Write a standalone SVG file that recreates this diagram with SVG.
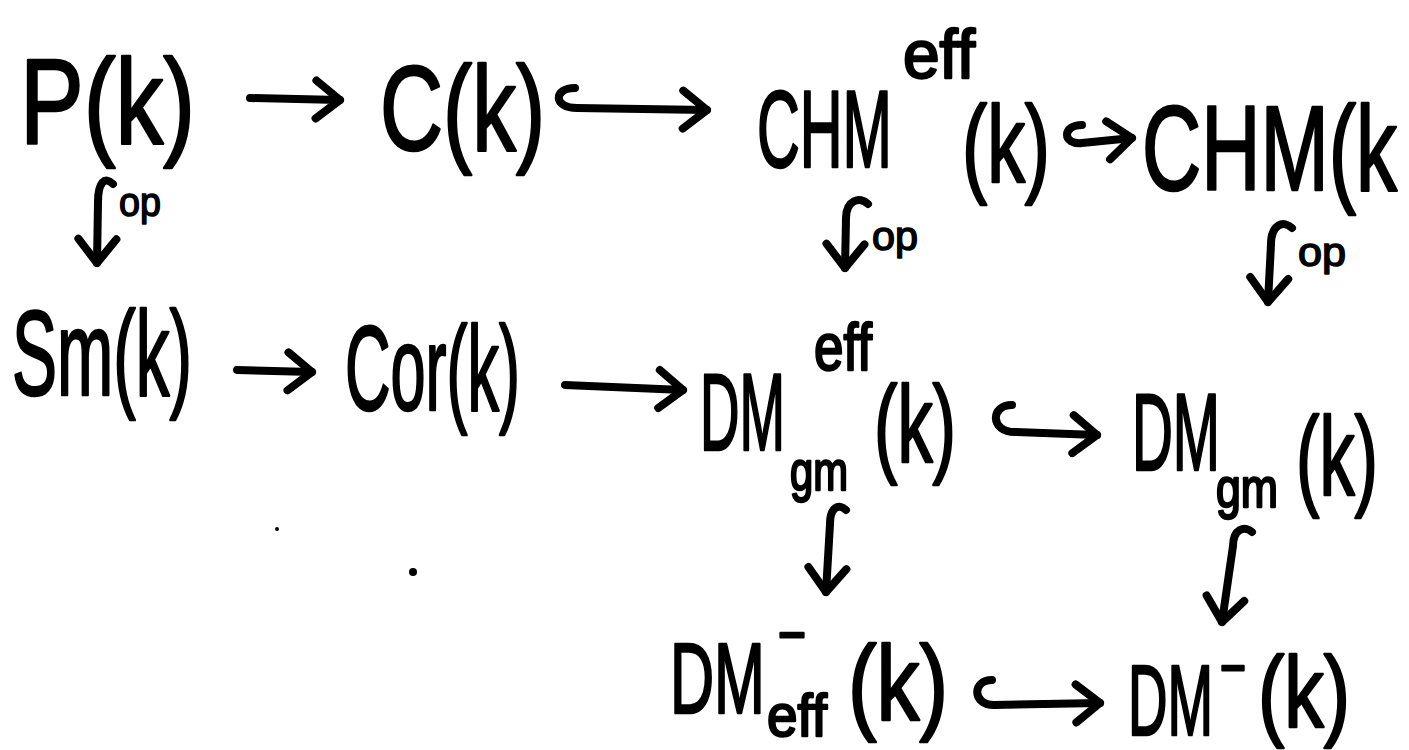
<svg xmlns="http://www.w3.org/2000/svg" width="1409" height="750" viewBox="0 0 1409 750">
<defs>
<style>
.t{font-family:"Liberation Sans",Arial,sans-serif;fill:#000;stroke:#000;stroke-width:2.5;stroke-linejoin:round;font-size:120px;}
.o{font-size:40px;stroke-width:1.5;}
.c{fill:none;stroke:#000;stroke-width:8;stroke-linecap:round;stroke-linejoin:round;}
</style>
<marker id="ah" markerUnits="userSpaceOnUse" markerWidth="60" markerHeight="60" viewBox="-30 -30 40 60" refX="0" refY="0" orient="auto" overflow="visible">
<path d="M-24,-19 L0,0 L-24,19" fill="none" stroke="#000" stroke-width="8" stroke-linecap="round" stroke-linejoin="round"/>
</marker>
</defs>
<rect width="1409" height="750" fill="#fff"/>
<g id="n-P"><text class="t" x="20" y="143" textLength="175" lengthAdjust="spacingAndGlyphs">P(k)</text></g>
<g id="n-C"><text class="t" x="380" y="150" textLength="165" lengthAdjust="spacingAndGlyphs">C(k)</text></g>
<g id="n-CHMeff"><text class="t"><tspan x="757" y="167" font-size="110" textLength="135" lengthAdjust="spacingAndGlyphs">CHM</tspan><tspan x="903" y="78" font-size="68" textLength="72" lengthAdjust="spacingAndGlyphs">eff</tspan><tspan x="962" y="182" font-size="110" textLength="88" lengthAdjust="spacingAndGlyphs">(k)</tspan></text></g>
<g id="n-CHM"><text class="t" x="1142" y="190" font-size="115" textLength="255" lengthAdjust="spacingAndGlyphs">CHM(k</text></g>
<g id="n-Sm"><text class="t" x="12" y="395" textLength="180" lengthAdjust="spacingAndGlyphs">Sm(k)</text></g>
<g id="n-Cor"><text class="t" x="345" y="410" textLength="175" lengthAdjust="spacingAndGlyphs">Cor(k)</text></g>
<g id="n-DMeffgm"><text class="t"><tspan x="700" y="450" font-size="110" textLength="85" lengthAdjust="spacingAndGlyphs">DM</tspan><tspan x="814" y="370" font-size="66" textLength="58" lengthAdjust="spacingAndGlyphs">eff</tspan><tspan x="790" y="490" font-size="56" textLength="58" lengthAdjust="spacingAndGlyphs">gm</tspan><tspan x="874" y="462" font-size="110" textLength="82" lengthAdjust="spacingAndGlyphs">(k)</tspan></text></g>
<g id="n-DMgm"><text class="t"><tspan x="1132" y="470" font-size="110" textLength="88" lengthAdjust="spacingAndGlyphs">DM</tspan><tspan x="1216" y="507" font-size="56" textLength="62" lengthAdjust="spacingAndGlyphs">gm</tspan><tspan x="1296" y="495" font-size="112" textLength="82" lengthAdjust="spacingAndGlyphs">(k)</tspan></text></g>
<g id="n-DMminuseff"><text class="t"><tspan x="670" y="713" font-size="100" textLength="95" lengthAdjust="spacingAndGlyphs">DM</tspan><tspan x="778" y="655" font-size="60" textLength="28" lengthAdjust="spacingAndGlyphs">−</tspan><tspan x="767" y="736" font-size="60" textLength="60" lengthAdjust="spacingAndGlyphs">eff</tspan><tspan x="848" y="720" font-size="105" textLength="100" lengthAdjust="spacingAndGlyphs">(k)</tspan></text></g>
<g id="n-DMminus"><text class="t"><tspan x="1128" y="735" font-size="100" textLength="85" lengthAdjust="spacingAndGlyphs">DM</tspan><tspan x="1220" y="688" font-size="60" textLength="26" lengthAdjust="spacingAndGlyphs">−</tspan><tspan x="1258" y="727" font-size="100" textLength="92" lengthAdjust="spacingAndGlyphs">(k)</tspan></text></g>
<g id="connectors">
<path class="c" d="M250,98 L340,100" marker-end="url(#ah)"/>
<path class="c" d="M575,88 C553,88 553,108 577,108 L707,110" marker-end="url(#ah)"/>
<path class="c" d="M1082,125 C1062,125 1062,145 1082,143 L1132,138" marker-end="url(#ah)"/>
<path class="c" d="M237,370 L312,372" marker-end="url(#ah)"/>
<path class="c" d="M565,385 L683,390" marker-end="url(#ah)"/>
<path class="c" d="M1012,405 C990,405 990,432 1015,432 L1097,435" marker-end="url(#ah)"/>
<path class="c" d="M992,680 C972,680 972,705 994,705 L1100,703" marker-end="url(#ah)"/>
<path class="c" d="M113,184 C105,176 98,182 98,202 L97,263" marker-end="url(#ah)"/>
<path class="c" d="M868,204 C860,196 846,200 846,218 L845,268" marker-end="url(#ah)"/>
<path class="c" d="M1292,228 C1284,220 1271,224 1271,244 L1268,302" marker-end="url(#ah)"/>
<path class="c" d="M846,510 C839,503 830,507 830,524 L826,592" marker-end="url(#ah)"/>
<path class="c" d="M1252,532 C1245,525 1233,529 1233,546 L1222,622" marker-end="url(#ah)"/>
<text class="t o" x="119" y="216" textLength="42" lengthAdjust="spacingAndGlyphs">op</text>
<text class="t o" x="872" y="250" textLength="46" lengthAdjust="spacingAndGlyphs">op</text>
<text class="t o" x="1298" y="266" textLength="48" lengthAdjust="spacingAndGlyphs">op</text>
</g>
<circle cx="413" cy="572" r="4" fill="#000"/>
<circle cx="277" cy="529" r="2" fill="#000"/>
</svg>
